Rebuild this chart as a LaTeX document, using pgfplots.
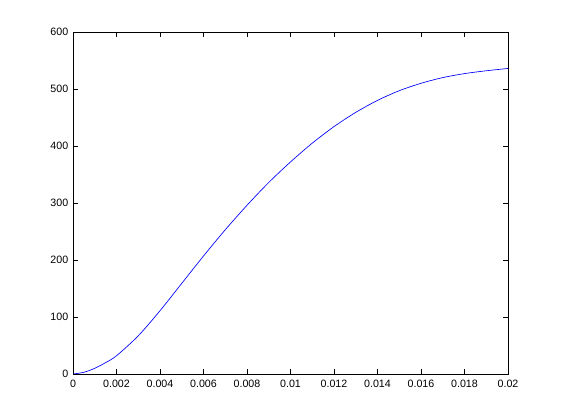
\documentclass[border=0pt]{standalone}
\usepackage{fontspec}
\setmainfont{Liberation Sans}
\usepackage{pgfplots}
\pgfplotsset{compat=1.18}

\begin{document}
\begin{tikzpicture}
\begin{axis}[
  name=ax,
  scale only axis,
  width=326.25pt, height=256.5pt,
  xmin=0, xmax=0.02, ymin=0, ymax=600,
  xtick={0,0.002,0.004,0.006,0.008,0.01,0.012,0.014,0.016,0.018,0.02},
  ytick={0,100,200,300,400,500,600},
  scaled x ticks=false, scaled y ticks=false,
  xticklabel style={/pgf/number format/fixed, /pgf/number format/precision=3},
  tick label style={font=\fontsize{8}{9}\selectfont},
  /pgf/number format/assume math mode=true,
  tick align=inside, major tick length=3.5pt,
  xtick pos=both, ytick pos=both,
  axis line style={line width=0.5pt},
  every tick/.style={black, line width=0.5pt},
  xticklabel shift=1pt,
]
\addplot[blue, line width=0.5pt, smooth] coordinates {
  (0,0) (0.0005,3) (0.001,10) (0.0015,20) (0.002,32) (0.003,67) (0.004,111)
  (0.005,159) (0.006,207) (0.007,253) (0.008,296) (0.009,336)
  (0.010,372) (0.011,405) (0.012,434) (0.013,459) (0.014,480)
  (0.015,497) (0.016,510) (0.017,520) (0.018,527) (0.019,532) (0.020,536)
};
\end{axis}
\useasboundingbox ([shift={(-54.75pt,-34.5pt)}]ax.south west) rectangle ([shift={(39.75pt,24pt)}]ax.north east);
\end{tikzpicture}
\end{document}
